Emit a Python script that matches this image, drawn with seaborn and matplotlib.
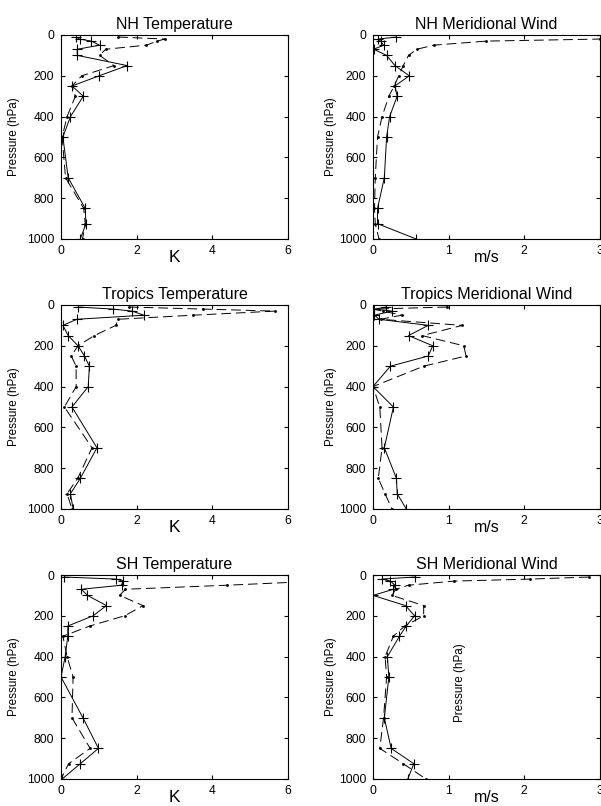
import matplotlib
matplotlib.use('Agg')
import matplotlib.pyplot as plt
import seaborn as sns

# pressure levels (hPa) shared by every profile
pressure = [10, 20, 30, 50, 70, 100, 150, 200, 250, 300, 400, 500, 700, 850, 925, 1000]

# solid = '+' line, dash = dashed line
nh_temp_solid = [0.40, 0.49, 0.80, 1.02, 0.43, 0.43, 1.75, 1.01, 0.29, 0.59, 0.25, 0.05, 0.19, 0.64, 0.66, 0.51]
nh_temp_dash = [1.51, 2.74, 2.55, 2.25, 1.18, 1.02, 1.40, 0.55, 0.29, 0.38, 0.16, 0.03, 0.12, 0.60, 0.64, 0.57]

nh_wind_solid = [0.31, 0.07, 0.10, 0.14, 0.01, 0.18, 0.29, 0.48, 0.29, 0.32, 0.22, 0.18, 0.15, 0.06, 0.06, 0.57]
nh_wind_dash = [3.50, 3.00, 1.50, 0.80, 0.58, 0.47, 0.40, 0.34, 0.28, 0.21, 0.12, 0.06, 0.03, 0.02, 0.03, 0.08]

tr_temp_solid = [0.45, 1.37, 1.88, 2.19, 0.42, 0.05, 0.19, 0.45, 0.62, 0.75, 0.72, 0.29, 0.95, 0.51, 0.25, 0.32]
tr_temp_dash = [1.80, 3.75, 5.65, 3.50, 1.50, 1.45, 0.88, 0.45, 0.27, 0.40, 0.40, 0.09, 0.82, 0.44, 0.16, 0.29]

tr_wind_solid = [0.17, 0.02, 0.25, 0.02, 0.08, 0.73, 0.47, 0.79, 0.73, 0.23, 0.00, 0.27, 0.15, 0.31, 0.32, 0.44]
tr_wind_dash = [0.98, 0.00, 0.13, 0.38, 0.10, 1.18, 0.65, 1.20, 1.23, 0.67, 0.00, 0.09, 0.12, 0.07, 0.16, 0.25]

sh_temp_solid = [0.08, 1.46, 1.64, 1.60, 0.54, 0.70, 1.20, 0.85, 0.18, 0.18, 0.11, 0.00, 0.58, 0.99, 0.51, 0.03]
sh_temp_dash = [7.50, 7.20, 6.80, 4.40, 1.70, 1.55, 2.17, 1.68, 0.76, 0.05, 0.16, 0.32, 0.29, 0.77, 0.20, 0.00]

sh_wind_solid = [0.55, 0.12, 0.23, 0.29, 0.27, 0.00, 0.43, 0.55, 0.44, 0.35, 0.19, 0.21, 0.15, 0.24, 0.54, 0.46]
sh_wind_dash = [2.85, 2.08, 1.07, 0.47, 0.30, 0.25, 0.67, 0.67, 0.42, 0.27, 0.16, 0.18, 0.14, 0.09, 0.40, 0.70]

temp_ticks = [0, 2, 4, 6]
wind_ticks = [0, 1, 2, 3]
p_ticks = [0, 200, 400, 600, 800, 1000]

sns.set_style('ticks', {'axes.edgecolor': 'black', 'xtick.direction': 'in', 'ytick.direction': 'in',
                        'text.color': 'black', 'axes.labelcolor': 'black',
                        'xtick.color': 'black', 'ytick.color': 'black'})
plt.rcParams['font.family'] = ['Liberation Sans', 'DejaVu Sans']

fig = plt.figure(figsize=(6.01, 8.06), dpi=100)


def drawProfile(rect, solid, dash, title, unit, ticks, label_x, unit_size):
    ax = fig.add_axes(rect)
    sns.lineplot(x=solid, y=pressure, sort=False, estimator=None, ax=ax, color='k',
                 lw=0.7, marker='+', markersize=6.5, markeredgecolor='k', markeredgewidth=0.8)
    sns.lineplot(x=dash, y=pressure, sort=False, estimator=None, ax=ax, color='k',
                 lw=0.7, linestyle=(0, (10, 5)), marker='.', markersize=3,
                 markeredgecolor='k', markeredgewidth=0.5)
    ax.set_xlim(ticks[0], ticks[-1])
    ax.set_ylim(1000, 0)
    ax.set_xticks(ticks)
    ax.set_yticks(p_ticks)
    ax.tick_params(direction='in', top=True, right=True, length=3, width=0.8,
                   labelsize=8.7, colors='k')
    ax.tick_params(axis='y', pad=5)
    ax.tick_params(axis='x', pad=4)
    for s in ax.spines.values():
        s.set_linewidth(0.8)
    ax.set_title(title, fontsize=11.5, pad=4, color='k')
    ax.set_xlabel(unit, fontsize=unit_size, color='k')
    ax.xaxis.set_label_coords(0.5, -0.052)
    ax.set_ylabel('Pressure (hPa)', fontsize=8.4, color='k')
    ax.yaxis.set_label_coords(label_x, 0.5)
    return ax


lefts = [0.1015, 0.6206]
bottoms = [0.7035, 0.3685, 0.0335]
w, h = 0.3777, 0.2531

drawProfile([lefts[0], bottoms[0], w, h], nh_temp_solid, nh_temp_dash, 'NH Temperature', 'K', temp_ticks, -0.18, 12.5)
drawProfile([lefts[1], bottoms[0], w, h], nh_wind_solid, nh_wind_dash, 'NH Meridional Wind', 'm/s', wind_ticks, -0.16, 11.5)
drawProfile([lefts[0], bottoms[1], w, h], tr_temp_solid, tr_temp_dash, 'Tropics Temperature', 'K', temp_ticks, -0.18, 12.5)
drawProfile([lefts[1], bottoms[1], w, h], tr_wind_solid, tr_wind_dash, 'Tropics Meridional Wind', 'm/s', wind_ticks, -0.16, 11.5)
drawProfile([lefts[0], bottoms[2], w, h], sh_temp_solid, sh_temp_dash, 'SH Temperature', 'K', temp_ticks, -0.18, 12.5)
ax = drawProfile([lefts[1], bottoms[2], w, h], sh_wind_solid, sh_wind_dash, 'SH Meridional Wind', 'm/s', wind_ticks, -0.16, 11.5)
# stray label left inside the last panel
ax.text(0.383, 0.47, 'Pressure (hPa)', transform=ax.transAxes, rotation=90,
        ha='center', va='center', fontsize=8.4, color='k')

fig.savefig('out.png', dpi=100)
